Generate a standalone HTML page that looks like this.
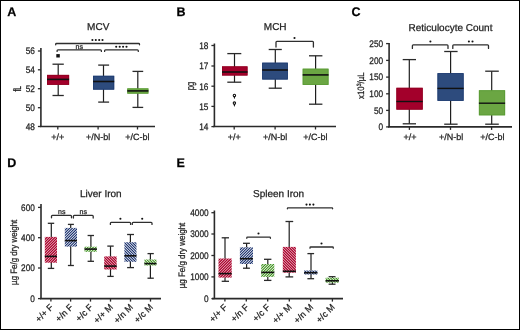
<!DOCTYPE html>
<html><head><meta charset="utf-8"><style>
html,body{margin:0;padding:0;background:#fff;width:520px;height:330px;overflow:hidden;}
svg{display:block;will-change:transform;text-rendering:geometricPrecision;font-family:"Liberation Sans", sans-serif;}
text{stroke:#222;stroke-width:0.25px;paint-order:stroke;}
</style></head><body>
<svg width="520" height="330" viewBox="0 0 520 330" font-family='"Liberation Sans", sans-serif'>
<defs><pattern id="rF" width="8" height="8" patternUnits="userSpaceOnUse"><rect x="0" y="0" width="1" height="1" fill="#be3c5c"/><rect x="1" y="0" width="1" height="1" fill="#ae0c34"/><rect x="2" y="0" width="1" height="1" fill="#de9bac"/><rect x="3" y="0" width="1" height="1" fill="#b2183e"/><rect x="4" y="0" width="1" height="1" fill="#be3c5c"/><rect x="5" y="0" width="1" height="1" fill="#d68398"/><rect x="6" y="0" width="1" height="1" fill="#aa002a"/><rect x="7" y="0" width="1" height="1" fill="#d68398"/><rect x="0" y="1" width="1" height="1" fill="#ae0c34"/><rect x="1" y="1" width="1" height="1" fill="#de9bac"/><rect x="2" y="1" width="1" height="1" fill="#b2183e"/><rect x="3" y="1" width="1" height="1" fill="#be3c5c"/><rect x="4" y="1" width="1" height="1" fill="#d68398"/><rect x="5" y="1" width="1" height="1" fill="#aa002a"/><rect x="6" y="1" width="1" height="1" fill="#d68398"/><rect x="7" y="1" width="1" height="1" fill="#be3c5c"/><rect x="0" y="2" width="1" height="1" fill="#de9bac"/><rect x="1" y="2" width="1" height="1" fill="#b2183e"/><rect x="2" y="2" width="1" height="1" fill="#be3c5c"/><rect x="3" y="2" width="1" height="1" fill="#d68398"/><rect x="4" y="2" width="1" height="1" fill="#aa002a"/><rect x="5" y="2" width="1" height="1" fill="#d68398"/><rect x="6" y="2" width="1" height="1" fill="#be3c5c"/><rect x="7" y="2" width="1" height="1" fill="#ae0c34"/><rect x="0" y="3" width="1" height="1" fill="#b2183e"/><rect x="1" y="3" width="1" height="1" fill="#be3c5c"/><rect x="2" y="3" width="1" height="1" fill="#d68398"/><rect x="3" y="3" width="1" height="1" fill="#aa002a"/><rect x="4" y="3" width="1" height="1" fill="#d68398"/><rect x="5" y="3" width="1" height="1" fill="#be3c5c"/><rect x="6" y="3" width="1" height="1" fill="#ae0c34"/><rect x="7" y="3" width="1" height="1" fill="#de9bac"/><rect x="0" y="4" width="1" height="1" fill="#be3c5c"/><rect x="1" y="4" width="1" height="1" fill="#d68398"/><rect x="2" y="4" width="1" height="1" fill="#aa002a"/><rect x="3" y="4" width="1" height="1" fill="#d68398"/><rect x="4" y="4" width="1" height="1" fill="#be3c5c"/><rect x="5" y="4" width="1" height="1" fill="#ae0c34"/><rect x="6" y="4" width="1" height="1" fill="#de9bac"/><rect x="7" y="4" width="1" height="1" fill="#b2183e"/><rect x="0" y="5" width="1" height="1" fill="#d68398"/><rect x="1" y="5" width="1" height="1" fill="#aa002a"/><rect x="2" y="5" width="1" height="1" fill="#d68398"/><rect x="3" y="5" width="1" height="1" fill="#be3c5c"/><rect x="4" y="5" width="1" height="1" fill="#ae0c34"/><rect x="5" y="5" width="1" height="1" fill="#de9bac"/><rect x="6" y="5" width="1" height="1" fill="#b2183e"/><rect x="7" y="5" width="1" height="1" fill="#be3c5c"/><rect x="0" y="6" width="1" height="1" fill="#aa002a"/><rect x="1" y="6" width="1" height="1" fill="#d68398"/><rect x="2" y="6" width="1" height="1" fill="#be3c5c"/><rect x="3" y="6" width="1" height="1" fill="#ae0c34"/><rect x="4" y="6" width="1" height="1" fill="#de9bac"/><rect x="5" y="6" width="1" height="1" fill="#b2183e"/><rect x="6" y="6" width="1" height="1" fill="#be3c5c"/><rect x="7" y="6" width="1" height="1" fill="#d68398"/><rect x="0" y="7" width="1" height="1" fill="#d68398"/><rect x="1" y="7" width="1" height="1" fill="#be3c5c"/><rect x="2" y="7" width="1" height="1" fill="#ae0c34"/><rect x="3" y="7" width="1" height="1" fill="#de9bac"/><rect x="4" y="7" width="1" height="1" fill="#b2183e"/><rect x="5" y="7" width="1" height="1" fill="#be3c5c"/><rect x="6" y="7" width="1" height="1" fill="#d68398"/><rect x="7" y="7" width="1" height="1" fill="#aa002a"/></pattern><pattern id="rM" width="8" height="8" patternUnits="userSpaceOnUse"><rect x="0" y="0" width="1" height="1" fill="#d68398"/><rect x="1" y="0" width="1" height="1" fill="#be3c5c"/><rect x="2" y="0" width="1" height="1" fill="#ae0c34"/><rect x="3" y="0" width="1" height="1" fill="#de9bac"/><rect x="4" y="0" width="1" height="1" fill="#b2183e"/><rect x="5" y="0" width="1" height="1" fill="#be3c5c"/><rect x="6" y="0" width="1" height="1" fill="#d68398"/><rect x="7" y="0" width="1" height="1" fill="#aa002a"/><rect x="0" y="1" width="1" height="1" fill="#aa002a"/><rect x="1" y="1" width="1" height="1" fill="#d68398"/><rect x="2" y="1" width="1" height="1" fill="#be3c5c"/><rect x="3" y="1" width="1" height="1" fill="#ae0c34"/><rect x="4" y="1" width="1" height="1" fill="#de9bac"/><rect x="5" y="1" width="1" height="1" fill="#b2183e"/><rect x="6" y="1" width="1" height="1" fill="#be3c5c"/><rect x="7" y="1" width="1" height="1" fill="#d68398"/><rect x="0" y="2" width="1" height="1" fill="#d68398"/><rect x="1" y="2" width="1" height="1" fill="#aa002a"/><rect x="2" y="2" width="1" height="1" fill="#d68398"/><rect x="3" y="2" width="1" height="1" fill="#be3c5c"/><rect x="4" y="2" width="1" height="1" fill="#ae0c34"/><rect x="5" y="2" width="1" height="1" fill="#de9bac"/><rect x="6" y="2" width="1" height="1" fill="#b2183e"/><rect x="7" y="2" width="1" height="1" fill="#be3c5c"/><rect x="0" y="3" width="1" height="1" fill="#be3c5c"/><rect x="1" y="3" width="1" height="1" fill="#d68398"/><rect x="2" y="3" width="1" height="1" fill="#aa002a"/><rect x="3" y="3" width="1" height="1" fill="#d68398"/><rect x="4" y="3" width="1" height="1" fill="#be3c5c"/><rect x="5" y="3" width="1" height="1" fill="#ae0c34"/><rect x="6" y="3" width="1" height="1" fill="#de9bac"/><rect x="7" y="3" width="1" height="1" fill="#b2183e"/><rect x="0" y="4" width="1" height="1" fill="#b2183e"/><rect x="1" y="4" width="1" height="1" fill="#be3c5c"/><rect x="2" y="4" width="1" height="1" fill="#d68398"/><rect x="3" y="4" width="1" height="1" fill="#aa002a"/><rect x="4" y="4" width="1" height="1" fill="#d68398"/><rect x="5" y="4" width="1" height="1" fill="#be3c5c"/><rect x="6" y="4" width="1" height="1" fill="#ae0c34"/><rect x="7" y="4" width="1" height="1" fill="#de9bac"/><rect x="0" y="5" width="1" height="1" fill="#de9bac"/><rect x="1" y="5" width="1" height="1" fill="#b2183e"/><rect x="2" y="5" width="1" height="1" fill="#be3c5c"/><rect x="3" y="5" width="1" height="1" fill="#d68398"/><rect x="4" y="5" width="1" height="1" fill="#aa002a"/><rect x="5" y="5" width="1" height="1" fill="#d68398"/><rect x="6" y="5" width="1" height="1" fill="#be3c5c"/><rect x="7" y="5" width="1" height="1" fill="#ae0c34"/><rect x="0" y="6" width="1" height="1" fill="#ae0c34"/><rect x="1" y="6" width="1" height="1" fill="#de9bac"/><rect x="2" y="6" width="1" height="1" fill="#b2183e"/><rect x="3" y="6" width="1" height="1" fill="#be3c5c"/><rect x="4" y="6" width="1" height="1" fill="#d68398"/><rect x="5" y="6" width="1" height="1" fill="#aa002a"/><rect x="6" y="6" width="1" height="1" fill="#d68398"/><rect x="7" y="6" width="1" height="1" fill="#be3c5c"/><rect x="0" y="7" width="1" height="1" fill="#be3c5c"/><rect x="1" y="7" width="1" height="1" fill="#ae0c34"/><rect x="2" y="7" width="1" height="1" fill="#de9bac"/><rect x="3" y="7" width="1" height="1" fill="#b2183e"/><rect x="4" y="7" width="1" height="1" fill="#be3c5c"/><rect x="5" y="7" width="1" height="1" fill="#d68398"/><rect x="6" y="7" width="1" height="1" fill="#aa002a"/><rect x="7" y="7" width="1" height="1" fill="#d68398"/></pattern><pattern id="bF" width="8" height="8" patternUnits="userSpaceOnUse"><rect x="0" y="0" width="1" height="1" fill="#96a1bd"/><rect x="1" y="0" width="1" height="1" fill="#1b326f"/><rect x="2" y="0" width="1" height="1" fill="#c3c9d9"/><rect x="3" y="0" width="1" height="1" fill="#5e6f9a"/><rect x="4" y="0" width="1" height="1" fill="#485a8b"/><rect x="5" y="0" width="1" height="1" fill="#ced3e0"/><rect x="6" y="0" width="1" height="1" fill="#263c76"/><rect x="7" y="0" width="1" height="1" fill="#96a1bd"/><rect x="0" y="1" width="1" height="1" fill="#1b326f"/><rect x="1" y="1" width="1" height="1" fill="#c3c9d9"/><rect x="2" y="1" width="1" height="1" fill="#5e6f9a"/><rect x="3" y="1" width="1" height="1" fill="#485a8b"/><rect x="4" y="1" width="1" height="1" fill="#ced3e0"/><rect x="5" y="1" width="1" height="1" fill="#263c76"/><rect x="6" y="1" width="1" height="1" fill="#96a1bd"/><rect x="7" y="1" width="1" height="1" fill="#96a1bd"/><rect x="0" y="2" width="1" height="1" fill="#c3c9d9"/><rect x="1" y="2" width="1" height="1" fill="#5e6f9a"/><rect x="2" y="2" width="1" height="1" fill="#485a8b"/><rect x="3" y="2" width="1" height="1" fill="#ced3e0"/><rect x="4" y="2" width="1" height="1" fill="#263c76"/><rect x="5" y="2" width="1" height="1" fill="#96a1bd"/><rect x="6" y="2" width="1" height="1" fill="#96a1bd"/><rect x="7" y="2" width="1" height="1" fill="#1b326f"/><rect x="0" y="3" width="1" height="1" fill="#5e6f9a"/><rect x="1" y="3" width="1" height="1" fill="#485a8b"/><rect x="2" y="3" width="1" height="1" fill="#ced3e0"/><rect x="3" y="3" width="1" height="1" fill="#263c76"/><rect x="4" y="3" width="1" height="1" fill="#96a1bd"/><rect x="5" y="3" width="1" height="1" fill="#96a1bd"/><rect x="6" y="3" width="1" height="1" fill="#1b326f"/><rect x="7" y="3" width="1" height="1" fill="#c3c9d9"/><rect x="0" y="4" width="1" height="1" fill="#485a8b"/><rect x="1" y="4" width="1" height="1" fill="#ced3e0"/><rect x="2" y="4" width="1" height="1" fill="#263c76"/><rect x="3" y="4" width="1" height="1" fill="#96a1bd"/><rect x="4" y="4" width="1" height="1" fill="#96a1bd"/><rect x="5" y="4" width="1" height="1" fill="#1b326f"/><rect x="6" y="4" width="1" height="1" fill="#c3c9d9"/><rect x="7" y="4" width="1" height="1" fill="#5e6f9a"/><rect x="0" y="5" width="1" height="1" fill="#ced3e0"/><rect x="1" y="5" width="1" height="1" fill="#263c76"/><rect x="2" y="5" width="1" height="1" fill="#96a1bd"/><rect x="3" y="5" width="1" height="1" fill="#96a1bd"/><rect x="4" y="5" width="1" height="1" fill="#1b326f"/><rect x="5" y="5" width="1" height="1" fill="#c3c9d9"/><rect x="6" y="5" width="1" height="1" fill="#5e6f9a"/><rect x="7" y="5" width="1" height="1" fill="#485a8b"/><rect x="0" y="6" width="1" height="1" fill="#263c76"/><rect x="1" y="6" width="1" height="1" fill="#96a1bd"/><rect x="2" y="6" width="1" height="1" fill="#96a1bd"/><rect x="3" y="6" width="1" height="1" fill="#1b326f"/><rect x="4" y="6" width="1" height="1" fill="#c3c9d9"/><rect x="5" y="6" width="1" height="1" fill="#5e6f9a"/><rect x="6" y="6" width="1" height="1" fill="#485a8b"/><rect x="7" y="6" width="1" height="1" fill="#ced3e0"/><rect x="0" y="7" width="1" height="1" fill="#96a1bd"/><rect x="1" y="7" width="1" height="1" fill="#96a1bd"/><rect x="2" y="7" width="1" height="1" fill="#1b326f"/><rect x="3" y="7" width="1" height="1" fill="#c3c9d9"/><rect x="4" y="7" width="1" height="1" fill="#5e6f9a"/><rect x="5" y="7" width="1" height="1" fill="#485a8b"/><rect x="6" y="7" width="1" height="1" fill="#ced3e0"/><rect x="7" y="7" width="1" height="1" fill="#263c76"/></pattern><pattern id="bM" width="8" height="8" patternUnits="userSpaceOnUse"><rect x="0" y="0" width="1" height="1" fill="#96a1bd"/><rect x="1" y="0" width="1" height="1" fill="#96a1bd"/><rect x="2" y="0" width="1" height="1" fill="#1b326f"/><rect x="3" y="0" width="1" height="1" fill="#c3c9d9"/><rect x="4" y="0" width="1" height="1" fill="#5e6f9a"/><rect x="5" y="0" width="1" height="1" fill="#485a8b"/><rect x="6" y="0" width="1" height="1" fill="#ced3e0"/><rect x="7" y="0" width="1" height="1" fill="#263c76"/><rect x="0" y="1" width="1" height="1" fill="#263c76"/><rect x="1" y="1" width="1" height="1" fill="#96a1bd"/><rect x="2" y="1" width="1" height="1" fill="#96a1bd"/><rect x="3" y="1" width="1" height="1" fill="#1b326f"/><rect x="4" y="1" width="1" height="1" fill="#c3c9d9"/><rect x="5" y="1" width="1" height="1" fill="#5e6f9a"/><rect x="6" y="1" width="1" height="1" fill="#485a8b"/><rect x="7" y="1" width="1" height="1" fill="#ced3e0"/><rect x="0" y="2" width="1" height="1" fill="#ced3e0"/><rect x="1" y="2" width="1" height="1" fill="#263c76"/><rect x="2" y="2" width="1" height="1" fill="#96a1bd"/><rect x="3" y="2" width="1" height="1" fill="#96a1bd"/><rect x="4" y="2" width="1" height="1" fill="#1b326f"/><rect x="5" y="2" width="1" height="1" fill="#c3c9d9"/><rect x="6" y="2" width="1" height="1" fill="#5e6f9a"/><rect x="7" y="2" width="1" height="1" fill="#485a8b"/><rect x="0" y="3" width="1" height="1" fill="#485a8b"/><rect x="1" y="3" width="1" height="1" fill="#ced3e0"/><rect x="2" y="3" width="1" height="1" fill="#263c76"/><rect x="3" y="3" width="1" height="1" fill="#96a1bd"/><rect x="4" y="3" width="1" height="1" fill="#96a1bd"/><rect x="5" y="3" width="1" height="1" fill="#1b326f"/><rect x="6" y="3" width="1" height="1" fill="#c3c9d9"/><rect x="7" y="3" width="1" height="1" fill="#5e6f9a"/><rect x="0" y="4" width="1" height="1" fill="#5e6f9a"/><rect x="1" y="4" width="1" height="1" fill="#485a8b"/><rect x="2" y="4" width="1" height="1" fill="#ced3e0"/><rect x="3" y="4" width="1" height="1" fill="#263c76"/><rect x="4" y="4" width="1" height="1" fill="#96a1bd"/><rect x="5" y="4" width="1" height="1" fill="#96a1bd"/><rect x="6" y="4" width="1" height="1" fill="#1b326f"/><rect x="7" y="4" width="1" height="1" fill="#c3c9d9"/><rect x="0" y="5" width="1" height="1" fill="#c3c9d9"/><rect x="1" y="5" width="1" height="1" fill="#5e6f9a"/><rect x="2" y="5" width="1" height="1" fill="#485a8b"/><rect x="3" y="5" width="1" height="1" fill="#ced3e0"/><rect x="4" y="5" width="1" height="1" fill="#263c76"/><rect x="5" y="5" width="1" height="1" fill="#96a1bd"/><rect x="6" y="5" width="1" height="1" fill="#96a1bd"/><rect x="7" y="5" width="1" height="1" fill="#1b326f"/><rect x="0" y="6" width="1" height="1" fill="#1b326f"/><rect x="1" y="6" width="1" height="1" fill="#c3c9d9"/><rect x="2" y="6" width="1" height="1" fill="#5e6f9a"/><rect x="3" y="6" width="1" height="1" fill="#485a8b"/><rect x="4" y="6" width="1" height="1" fill="#ced3e0"/><rect x="5" y="6" width="1" height="1" fill="#263c76"/><rect x="6" y="6" width="1" height="1" fill="#96a1bd"/><rect x="7" y="6" width="1" height="1" fill="#96a1bd"/><rect x="0" y="7" width="1" height="1" fill="#96a1bd"/><rect x="1" y="7" width="1" height="1" fill="#1b326f"/><rect x="2" y="7" width="1" height="1" fill="#c3c9d9"/><rect x="3" y="7" width="1" height="1" fill="#5e6f9a"/><rect x="4" y="7" width="1" height="1" fill="#485a8b"/><rect x="5" y="7" width="1" height="1" fill="#ced3e0"/><rect x="6" y="7" width="1" height="1" fill="#263c76"/><rect x="7" y="7" width="1" height="1" fill="#96a1bd"/></pattern><pattern id="gF" width="8" height="8" patternUnits="userSpaceOnUse"><rect x="0" y="0" width="1" height="1" fill="#a8ce99"/><rect x="1" y="0" width="1" height="1" fill="#419321"/><rect x="2" y="0" width="1" height="1" fill="#cde3c5"/><rect x="3" y="0" width="1" height="1" fill="#79b362"/><rect x="4" y="0" width="1" height="1" fill="#67a84d"/><rect x="5" y="0" width="1" height="1" fill="#d7e8d0"/><rect x="6" y="0" width="1" height="1" fill="#4b992c"/><rect x="7" y="0" width="1" height="1" fill="#a8ce99"/><rect x="0" y="1" width="1" height="1" fill="#419321"/><rect x="1" y="1" width="1" height="1" fill="#cde3c5"/><rect x="2" y="1" width="1" height="1" fill="#79b362"/><rect x="3" y="1" width="1" height="1" fill="#67a84d"/><rect x="4" y="1" width="1" height="1" fill="#d7e8d0"/><rect x="5" y="1" width="1" height="1" fill="#4b992c"/><rect x="6" y="1" width="1" height="1" fill="#a8ce99"/><rect x="7" y="1" width="1" height="1" fill="#a8ce99"/><rect x="0" y="2" width="1" height="1" fill="#cde3c5"/><rect x="1" y="2" width="1" height="1" fill="#79b362"/><rect x="2" y="2" width="1" height="1" fill="#67a84d"/><rect x="3" y="2" width="1" height="1" fill="#d7e8d0"/><rect x="4" y="2" width="1" height="1" fill="#4b992c"/><rect x="5" y="2" width="1" height="1" fill="#a8ce99"/><rect x="6" y="2" width="1" height="1" fill="#a8ce99"/><rect x="7" y="2" width="1" height="1" fill="#419321"/><rect x="0" y="3" width="1" height="1" fill="#79b362"/><rect x="1" y="3" width="1" height="1" fill="#67a84d"/><rect x="2" y="3" width="1" height="1" fill="#d7e8d0"/><rect x="3" y="3" width="1" height="1" fill="#4b992c"/><rect x="4" y="3" width="1" height="1" fill="#a8ce99"/><rect x="5" y="3" width="1" height="1" fill="#a8ce99"/><rect x="6" y="3" width="1" height="1" fill="#419321"/><rect x="7" y="3" width="1" height="1" fill="#cde3c5"/><rect x="0" y="4" width="1" height="1" fill="#67a84d"/><rect x="1" y="4" width="1" height="1" fill="#d7e8d0"/><rect x="2" y="4" width="1" height="1" fill="#4b992c"/><rect x="3" y="4" width="1" height="1" fill="#a8ce99"/><rect x="4" y="4" width="1" height="1" fill="#a8ce99"/><rect x="5" y="4" width="1" height="1" fill="#419321"/><rect x="6" y="4" width="1" height="1" fill="#cde3c5"/><rect x="7" y="4" width="1" height="1" fill="#79b362"/><rect x="0" y="5" width="1" height="1" fill="#d7e8d0"/><rect x="1" y="5" width="1" height="1" fill="#4b992c"/><rect x="2" y="5" width="1" height="1" fill="#a8ce99"/><rect x="3" y="5" width="1" height="1" fill="#a8ce99"/><rect x="4" y="5" width="1" height="1" fill="#419321"/><rect x="5" y="5" width="1" height="1" fill="#cde3c5"/><rect x="6" y="5" width="1" height="1" fill="#79b362"/><rect x="7" y="5" width="1" height="1" fill="#67a84d"/><rect x="0" y="6" width="1" height="1" fill="#4b992c"/><rect x="1" y="6" width="1" height="1" fill="#a8ce99"/><rect x="2" y="6" width="1" height="1" fill="#a8ce99"/><rect x="3" y="6" width="1" height="1" fill="#419321"/><rect x="4" y="6" width="1" height="1" fill="#cde3c5"/><rect x="5" y="6" width="1" height="1" fill="#79b362"/><rect x="6" y="6" width="1" height="1" fill="#67a84d"/><rect x="7" y="6" width="1" height="1" fill="#d7e8d0"/><rect x="0" y="7" width="1" height="1" fill="#a8ce99"/><rect x="1" y="7" width="1" height="1" fill="#a8ce99"/><rect x="2" y="7" width="1" height="1" fill="#419321"/><rect x="3" y="7" width="1" height="1" fill="#cde3c5"/><rect x="4" y="7" width="1" height="1" fill="#79b362"/><rect x="5" y="7" width="1" height="1" fill="#67a84d"/><rect x="6" y="7" width="1" height="1" fill="#d7e8d0"/><rect x="7" y="7" width="1" height="1" fill="#4b992c"/></pattern><pattern id="gM" width="8" height="8" patternUnits="userSpaceOnUse"><rect x="0" y="0" width="1" height="1" fill="#a8ce99"/><rect x="1" y="0" width="1" height="1" fill="#a8ce99"/><rect x="2" y="0" width="1" height="1" fill="#419321"/><rect x="3" y="0" width="1" height="1" fill="#cde3c5"/><rect x="4" y="0" width="1" height="1" fill="#79b362"/><rect x="5" y="0" width="1" height="1" fill="#67a84d"/><rect x="6" y="0" width="1" height="1" fill="#d7e8d0"/><rect x="7" y="0" width="1" height="1" fill="#4b992c"/><rect x="0" y="1" width="1" height="1" fill="#4b992c"/><rect x="1" y="1" width="1" height="1" fill="#a8ce99"/><rect x="2" y="1" width="1" height="1" fill="#a8ce99"/><rect x="3" y="1" width="1" height="1" fill="#419321"/><rect x="4" y="1" width="1" height="1" fill="#cde3c5"/><rect x="5" y="1" width="1" height="1" fill="#79b362"/><rect x="6" y="1" width="1" height="1" fill="#67a84d"/><rect x="7" y="1" width="1" height="1" fill="#d7e8d0"/><rect x="0" y="2" width="1" height="1" fill="#d7e8d0"/><rect x="1" y="2" width="1" height="1" fill="#4b992c"/><rect x="2" y="2" width="1" height="1" fill="#a8ce99"/><rect x="3" y="2" width="1" height="1" fill="#a8ce99"/><rect x="4" y="2" width="1" height="1" fill="#419321"/><rect x="5" y="2" width="1" height="1" fill="#cde3c5"/><rect x="6" y="2" width="1" height="1" fill="#79b362"/><rect x="7" y="2" width="1" height="1" fill="#67a84d"/><rect x="0" y="3" width="1" height="1" fill="#67a84d"/><rect x="1" y="3" width="1" height="1" fill="#d7e8d0"/><rect x="2" y="3" width="1" height="1" fill="#4b992c"/><rect x="3" y="3" width="1" height="1" fill="#a8ce99"/><rect x="4" y="3" width="1" height="1" fill="#a8ce99"/><rect x="5" y="3" width="1" height="1" fill="#419321"/><rect x="6" y="3" width="1" height="1" fill="#cde3c5"/><rect x="7" y="3" width="1" height="1" fill="#79b362"/><rect x="0" y="4" width="1" height="1" fill="#79b362"/><rect x="1" y="4" width="1" height="1" fill="#67a84d"/><rect x="2" y="4" width="1" height="1" fill="#d7e8d0"/><rect x="3" y="4" width="1" height="1" fill="#4b992c"/><rect x="4" y="4" width="1" height="1" fill="#a8ce99"/><rect x="5" y="4" width="1" height="1" fill="#a8ce99"/><rect x="6" y="4" width="1" height="1" fill="#419321"/><rect x="7" y="4" width="1" height="1" fill="#cde3c5"/><rect x="0" y="5" width="1" height="1" fill="#cde3c5"/><rect x="1" y="5" width="1" height="1" fill="#79b362"/><rect x="2" y="5" width="1" height="1" fill="#67a84d"/><rect x="3" y="5" width="1" height="1" fill="#d7e8d0"/><rect x="4" y="5" width="1" height="1" fill="#4b992c"/><rect x="5" y="5" width="1" height="1" fill="#a8ce99"/><rect x="6" y="5" width="1" height="1" fill="#a8ce99"/><rect x="7" y="5" width="1" height="1" fill="#419321"/><rect x="0" y="6" width="1" height="1" fill="#419321"/><rect x="1" y="6" width="1" height="1" fill="#cde3c5"/><rect x="2" y="6" width="1" height="1" fill="#79b362"/><rect x="3" y="6" width="1" height="1" fill="#67a84d"/><rect x="4" y="6" width="1" height="1" fill="#d7e8d0"/><rect x="5" y="6" width="1" height="1" fill="#4b992c"/><rect x="6" y="6" width="1" height="1" fill="#a8ce99"/><rect x="7" y="6" width="1" height="1" fill="#a8ce99"/><rect x="0" y="7" width="1" height="1" fill="#a8ce99"/><rect x="1" y="7" width="1" height="1" fill="#419321"/><rect x="2" y="7" width="1" height="1" fill="#cde3c5"/><rect x="3" y="7" width="1" height="1" fill="#79b362"/><rect x="4" y="7" width="1" height="1" fill="#67a84d"/><rect x="5" y="7" width="1" height="1" fill="#d7e8d0"/><rect x="6" y="7" width="1" height="1" fill="#4b992c"/><rect x="7" y="7" width="1" height="1" fill="#a8ce99"/></pattern></defs>
<rect x="0" y="0" width="520" height="330" fill="#fff"/>
<rect x="0.5" y="0.5" width="519" height="329" fill="none" stroke="#000" stroke-width="1"/>
<text x="7.2" y="15.9" font-size="12.5" text-anchor="start" font-weight="bold" fill="#000" >A</text>
<text x="176.6" y="16" font-size="12.5" text-anchor="start" font-weight="bold" fill="#000" >B</text>
<text x="351.5" y="16" font-size="12.5" text-anchor="start" font-weight="bold" fill="#000" >C</text>
<text x="7.2" y="167.3" font-size="12.5" text-anchor="start" font-weight="bold" fill="#000" >D</text>
<text x="176.6" y="167.3" font-size="12.5" text-anchor="start" font-weight="bold" fill="#000" >E</text>
<text x="0" y="0" font-size="10" text-anchor="middle" fill="#222" transform="translate(98.2,30)">MCV</text>
<line x1="40.9" y1="48" x2="40.9" y2="126.5" stroke="#2a2a2a" stroke-width="1.6"/>
<line x1="37.9" y1="51" x2="40.9" y2="51" stroke="#2a2a2a" stroke-width="1.3"/>
<text x="0" y="0" font-size="9.5" text-anchor="end" fill="#222" transform="translate(34.85,54.33) scale(0.87,1)">56</text>
<line x1="37.9" y1="69.8" x2="40.9" y2="69.8" stroke="#2a2a2a" stroke-width="1.3"/>
<text x="0" y="0" font-size="9.5" text-anchor="end" fill="#222" transform="translate(34.85,73.12) scale(0.87,1)">54</text>
<line x1="37.9" y1="88.7" x2="40.9" y2="88.7" stroke="#2a2a2a" stroke-width="1.3"/>
<text x="0" y="0" font-size="9.5" text-anchor="end" fill="#222" transform="translate(34.85,92.03) scale(0.87,1)">52</text>
<line x1="37.9" y1="107.7" x2="40.9" y2="107.7" stroke="#2a2a2a" stroke-width="1.3"/>
<text x="0" y="0" font-size="9.5" text-anchor="end" fill="#222" transform="translate(34.85,111.03) scale(0.87,1)">50</text>
<line x1="37.9" y1="126.5" x2="40.9" y2="126.5" stroke="#2a2a2a" stroke-width="1.3"/>
<text x="0" y="0" font-size="9.5" text-anchor="end" fill="#222" transform="translate(34.85,129.82) scale(0.87,1)">48</text>
<line x1="40" y1="126.5" x2="155" y2="126.5" stroke="#2a2a2a" stroke-width="1.6"/>
<line x1="57.8" y1="126.5" x2="57.8" y2="129.5" stroke="#2a2a2a" stroke-width="1.3"/>
<line x1="98.1" y1="126.5" x2="98.1" y2="129.5" stroke="#2a2a2a" stroke-width="1.3"/>
<line x1="137.5" y1="126.5" x2="137.5" y2="129.5" stroke="#2a2a2a" stroke-width="1.3"/>
<text x="57.8" y="139.8" font-size="9" text-anchor="middle" font-weight="normal" fill="#222" >+/+</text>
<text x="98.1" y="139.8" font-size="9" text-anchor="middle" font-weight="normal" fill="#222" >+/N-bl</text>
<text x="137.5" y="139.8" font-size="9" text-anchor="middle" font-weight="normal" fill="#222" >+/C-bl</text>
<text x="0" y="0" font-size="11" text-anchor="middle" textLength="5.6" lengthAdjust="spacingAndGlyphs" fill="#222" transform="translate(20.6,88.8) rotate(-90)">fL</text>
<line x1="58.2" y1="64.2" x2="58.2" y2="95.5" stroke="#1e1e1e" stroke-width="1.2"/>
<line x1="52.5" y1="64.2" x2="63.8" y2="64.2" stroke="#2a2a2a" stroke-width="1.3"/>
<line x1="52.5" y1="95.5" x2="63.8" y2="95.5" stroke="#2a2a2a" stroke-width="1.3"/>
<rect x="47" y="74.9" width="22.099999999999994" height="9.899999999999991" fill="#a3002b"/>
<rect x="47.40" y="75.30" width="21.30" height="9.10" fill="none" stroke="#900020" stroke-width="0.8"/>
<line x1="47" y1="79.4" x2="69.1" y2="79.4" stroke="#111" stroke-width="1.6"/>
<rect x="56.3" y="54.1" width="3.5" height="3.4" fill="#111"/>
<line x1="103.5" y1="65.1" x2="103.5" y2="102.1" stroke="#1e1e1e" stroke-width="1.2"/>
<line x1="98.2" y1="65.1" x2="109.1" y2="65.1" stroke="#2a2a2a" stroke-width="1.3"/>
<line x1="98.2" y1="102.1" x2="109.1" y2="102.1" stroke="#2a2a2a" stroke-width="1.3"/>
<rect x="93.1" y="75.8" width="21.10000000000001" height="13.799999999999997" fill="#2d4b7d"/>
<rect x="93.50" y="76.20" width="20.30" height="13.00" fill="none" stroke="#1c3a70" stroke-width="0.8"/>
<line x1="93.1" y1="81.5" x2="114.2" y2="81.5" stroke="#111" stroke-width="1.6"/>
<line x1="137.8" y1="71.4" x2="137.8" y2="107.4" stroke="#1e1e1e" stroke-width="1.2"/>
<line x1="132.5" y1="71.4" x2="143.2" y2="71.4" stroke="#2a2a2a" stroke-width="1.3"/>
<line x1="132.5" y1="107.4" x2="143.2" y2="107.4" stroke="#2a2a2a" stroke-width="1.3"/>
<rect x="127.3" y="88.4" width="21.10000000000001" height="5.199999999999989" fill="#6ba643"/>
<rect x="127.70" y="88.80" width="20.30" height="4.40" fill="none" stroke="#589a32" stroke-width="0.8"/>
<line x1="127.3" y1="90.9" x2="148.4" y2="90.9" stroke="#111" stroke-width="1.6"/>
<path d="M55.7 44.8 L55.7 44.28 Q55.7 43.5 56.48 43.5 L138.72 43.5 Q139.5 43.5 139.5 44.28 L139.5 44.8" fill="none" stroke="#2e2e2e" stroke-width="1.3" stroke-linecap="round"/>
<path d="M57.1 51.4 L57.1 50.70 Q57.1 49.8 58.00 49.8 L100.50 49.8 Q101.4 49.8 101.4 50.70 L101.4 51.4" fill="none" stroke="#2e2e2e" stroke-width="1.3" stroke-linecap="round"/>
<path d="M104.6 51.4 L104.6 50.70 Q104.6 49.8 105.50 49.8 L137.40 49.8 Q138.3 49.8 138.3 50.70 L138.3 51.4" fill="none" stroke="#2e2e2e" stroke-width="1.3" stroke-linecap="round"/>
<circle cx="92.4" cy="40" r="1.05" fill="#111"/>
<circle cx="95.8" cy="40" r="1.05" fill="#111"/>
<circle cx="99.2" cy="40" r="1.05" fill="#111"/>
<circle cx="102.5" cy="40" r="1.05" fill="#111"/>
<text x="79.3" y="48.8" font-size="7" text-anchor="middle" font-weight="normal" fill="#222" >ns</text>
<circle cx="116.2" cy="46.8" r="1.05" fill="#111"/>
<circle cx="119.7" cy="46.8" r="1.05" fill="#111"/>
<circle cx="123.1" cy="46.8" r="1.05" fill="#111"/>
<circle cx="126.5" cy="46.8" r="1.05" fill="#111"/>
<text x="0" y="0" font-size="10" text-anchor="middle" fill="#222" transform="translate(275.2,30)">MCH</text>
<line x1="214.4" y1="43.5" x2="214.4" y2="126.6" stroke="#2a2a2a" stroke-width="1.6"/>
<line x1="211.4" y1="45.5" x2="214.4" y2="45.5" stroke="#2a2a2a" stroke-width="1.3"/>
<text x="0" y="0" font-size="9.5" text-anchor="end" fill="#222" transform="translate(208.45,48.83) scale(0.87,1)">18</text>
<line x1="211.4" y1="66" x2="214.4" y2="66" stroke="#2a2a2a" stroke-width="1.3"/>
<text x="0" y="0" font-size="9.5" text-anchor="end" fill="#222" transform="translate(208.45,69.33) scale(0.87,1)">17</text>
<line x1="211.4" y1="86.2" x2="214.4" y2="86.2" stroke="#2a2a2a" stroke-width="1.3"/>
<text x="0" y="0" font-size="9.5" text-anchor="end" fill="#222" transform="translate(208.45,89.53) scale(0.87,1)">16</text>
<line x1="211.4" y1="106.4" x2="214.4" y2="106.4" stroke="#2a2a2a" stroke-width="1.3"/>
<text x="0" y="0" font-size="9.5" text-anchor="end" fill="#222" transform="translate(208.45,109.73) scale(0.87,1)">15</text>
<line x1="211.4" y1="126.6" x2="214.4" y2="126.6" stroke="#2a2a2a" stroke-width="1.3"/>
<text x="0" y="0" font-size="9.5" text-anchor="end" fill="#222" transform="translate(208.45,129.92) scale(0.87,1)">14</text>
<line x1="213" y1="126.5" x2="336" y2="126.5" stroke="#2a2a2a" stroke-width="1.6"/>
<line x1="234.2" y1="126.5" x2="234.2" y2="129.5" stroke="#2a2a2a" stroke-width="1.3"/>
<line x1="275.1" y1="126.5" x2="275.1" y2="129.5" stroke="#2a2a2a" stroke-width="1.3"/>
<line x1="315.5" y1="126.5" x2="315.5" y2="129.5" stroke="#2a2a2a" stroke-width="1.3"/>
<text x="234.2" y="139.8" font-size="9" text-anchor="middle" font-weight="normal" fill="#222" >+/+</text>
<text x="275.1" y="139.8" font-size="9" text-anchor="middle" font-weight="normal" fill="#222" >+/N-bl</text>
<text x="315.5" y="139.8" font-size="9" text-anchor="middle" font-weight="normal" fill="#222" >+/C-bl</text>
<text x="0" y="0" font-size="11" text-anchor="middle" textLength="8.5" lengthAdjust="spacingAndGlyphs" fill="#222" transform="translate(193.7,86) rotate(-90)">pg</text>
<line x1="234.5" y1="53.6" x2="234.5" y2="82.2" stroke="#1e1e1e" stroke-width="1.2"/>
<line x1="227.3" y1="53.6" x2="241.3" y2="53.6" stroke="#2a2a2a" stroke-width="1.3"/>
<line x1="227.3" y1="82.2" x2="241.3" y2="82.2" stroke="#2a2a2a" stroke-width="1.3"/>
<rect x="222" y="66.4" width="25.5" height="9.099999999999994" fill="#a3002b"/>
<rect x="222.40" y="66.80" width="24.70" height="8.30" fill="none" stroke="#900020" stroke-width="0.8"/>
<line x1="222" y1="72" x2="247.5" y2="72" stroke="#111" stroke-width="1.6"/>
<line x1="275.3" y1="49.5" x2="275.3" y2="88.2" stroke="#1e1e1e" stroke-width="1.2"/>
<line x1="268.7" y1="49.5" x2="281.8" y2="49.5" stroke="#2a2a2a" stroke-width="1.3"/>
<line x1="268.7" y1="88.2" x2="281.8" y2="88.2" stroke="#2a2a2a" stroke-width="1.3"/>
<rect x="262.2" y="62.7" width="25.600000000000023" height="16.799999999999997" fill="#2d4b7d"/>
<rect x="262.60" y="63.10" width="24.80" height="16.00" fill="none" stroke="#1c3a70" stroke-width="0.8"/>
<line x1="262.2" y1="70" x2="287.8" y2="70" stroke="#111" stroke-width="1.6"/>
<line x1="315.6" y1="55.8" x2="315.6" y2="104.2" stroke="#1e1e1e" stroke-width="1.2"/>
<line x1="309" y1="55.8" x2="322.4" y2="55.8" stroke="#2a2a2a" stroke-width="1.3"/>
<line x1="309" y1="104.2" x2="322.4" y2="104.2" stroke="#2a2a2a" stroke-width="1.3"/>
<rect x="302.7" y="68.7" width="25.80000000000001" height="16.200000000000003" fill="#6ba643"/>
<rect x="303.10" y="69.10" width="25.00" height="15.40" fill="none" stroke="#589a32" stroke-width="0.8"/>
<line x1="302.7" y1="74.9" x2="328.5" y2="74.9" stroke="#111" stroke-width="1.6"/>
<circle cx="234.4" cy="95.4" r="1.2" fill="none" stroke="#111" stroke-width="1.1"/>
<path d="M233.5 96.30000000000001 L235.3 96.30000000000001 L234.7 98.80000000000001 L234.1 98.80000000000001 Z" fill="#111"/>
<circle cx="234.4" cy="103.1" r="1.2" fill="none" stroke="#111" stroke-width="1.1"/>
<path d="M233.5 104.0 L235.3 104.0 L234.7 106.5 L234.1 106.5 Z" fill="#111"/>
<path d="M276 47.1 L276 42.30 Q276 41.4 276.90 41.4 L312.50 41.4 Q313.4 41.4 313.4 42.30 L313.4 47.1" fill="none" stroke="#2e2e2e" stroke-width="1.3" stroke-linecap="round"/>
<circle cx="294.5" cy="38" r="1.05" fill="#111"/>
<text x="0" y="0" font-size="10" text-anchor="middle" fill="#222" transform="translate(450.5,30.7)">Reticulocyte Count</text>
<line x1="389.1" y1="43" x2="389.1" y2="126.9" stroke="#2a2a2a" stroke-width="1.6"/>
<line x1="386.1" y1="43.6" x2="389.1" y2="43.6" stroke="#2a2a2a" stroke-width="1.3"/>
<text x="0" y="0" font-size="9.5" text-anchor="end" fill="#222" transform="translate(383.15000000000003,46.93) scale(0.87,1)">250</text>
<line x1="386.1" y1="60.4" x2="389.1" y2="60.4" stroke="#2a2a2a" stroke-width="1.3"/>
<text x="0" y="0" font-size="9.5" text-anchor="end" fill="#222" transform="translate(383.15000000000003,63.73) scale(0.87,1)">200</text>
<line x1="386.1" y1="77.1" x2="389.1" y2="77.1" stroke="#2a2a2a" stroke-width="1.3"/>
<text x="0" y="0" font-size="9.5" text-anchor="end" fill="#222" transform="translate(383.15000000000003,80.42) scale(0.87,1)">150</text>
<line x1="386.1" y1="93.8" x2="389.1" y2="93.8" stroke="#2a2a2a" stroke-width="1.3"/>
<text x="0" y="0" font-size="9.5" text-anchor="end" fill="#222" transform="translate(383.15000000000003,97.12) scale(0.87,1)">100</text>
<line x1="386.1" y1="110.4" x2="389.1" y2="110.4" stroke="#2a2a2a" stroke-width="1.3"/>
<text x="0" y="0" font-size="9.5" text-anchor="end" fill="#222" transform="translate(383.15000000000003,113.73) scale(0.87,1)">50</text>
<line x1="386.1" y1="126.9" x2="389.1" y2="126.9" stroke="#2a2a2a" stroke-width="1.3"/>
<text x="0" y="0" font-size="9.5" text-anchor="end" fill="#222" transform="translate(383.15000000000003,130.22) scale(0.87,1)">0</text>
<line x1="388" y1="126.9" x2="512" y2="126.9" stroke="#2a2a2a" stroke-width="1.6"/>
<line x1="409.4" y1="126.9" x2="409.4" y2="129.9" stroke="#2a2a2a" stroke-width="1.3"/>
<line x1="450.5" y1="126.9" x2="450.5" y2="129.9" stroke="#2a2a2a" stroke-width="1.3"/>
<line x1="491.6" y1="126.9" x2="491.6" y2="129.9" stroke="#2a2a2a" stroke-width="1.3"/>
<text x="410.09999999999997" y="139.8" font-size="9" text-anchor="middle" font-weight="normal" fill="#222" >+/+</text>
<text x="451.2" y="139.8" font-size="9" text-anchor="middle" font-weight="normal" fill="#222" >+/N-bl</text>
<text x="492.3" y="139.8" font-size="9" text-anchor="middle" font-weight="normal" fill="#222" >+/C-bl</text>
<text x="0" y="0" font-size="9.2" text-anchor="middle" fill="#222" transform="translate(363.9,85.65) rotate(-90) scale(0.85,1)">x10<tspan font-size="6.2" dy="-3.3">3</tspan><tspan dy="3.3">/µL</tspan></text>
<line x1="409.3" y1="59.6" x2="409.3" y2="123.8" stroke="#1e1e1e" stroke-width="1.2"/>
<line x1="402.7" y1="59.6" x2="416" y2="59.6" stroke="#2a2a2a" stroke-width="1.3"/>
<line x1="402.7" y1="123.8" x2="416" y2="123.8" stroke="#2a2a2a" stroke-width="1.3"/>
<rect x="396.4" y="87.8" width="26.30000000000001" height="21.799999999999997" fill="#a3002b"/>
<rect x="396.80" y="88.20" width="25.50" height="21.00" fill="none" stroke="#900020" stroke-width="0.8"/>
<line x1="396.4" y1="101.5" x2="422.7" y2="101.5" stroke="#111" stroke-width="1.4"/>
<line x1="450.6" y1="51.5" x2="450.6" y2="124.2" stroke="#1e1e1e" stroke-width="1.2"/>
<line x1="444.2" y1="51.5" x2="457.6" y2="51.5" stroke="#2a2a2a" stroke-width="1.3"/>
<line x1="444.2" y1="124.2" x2="457.6" y2="124.2" stroke="#2a2a2a" stroke-width="1.3"/>
<rect x="437.5" y="73.2" width="26.100000000000023" height="27.599999999999994" fill="#2d4b7d"/>
<rect x="437.90" y="73.60" width="25.30" height="26.80" fill="none" stroke="#1c3a70" stroke-width="0.8"/>
<line x1="437.5" y1="88.4" x2="463.6" y2="88.4" stroke="#111" stroke-width="1.4"/>
<line x1="491.7" y1="71.2" x2="491.7" y2="124.2" stroke="#1e1e1e" stroke-width="1.2"/>
<line x1="485.2" y1="71.2" x2="498.8" y2="71.2" stroke="#2a2a2a" stroke-width="1.3"/>
<line x1="485.2" y1="124.2" x2="498.8" y2="124.2" stroke="#2a2a2a" stroke-width="1.3"/>
<rect x="478.9" y="90.3" width="26.200000000000045" height="25.0" fill="#6ba643"/>
<rect x="479.30" y="90.70" width="25.40" height="24.20" fill="none" stroke="#589a32" stroke-width="0.8"/>
<line x1="478.9" y1="103.2" x2="505.1" y2="103.2" stroke="#111" stroke-width="1.4"/>
<path d="M412.4 48.4 L412.4 45.80 Q412.4 44.9 413.30 44.9 L447.10 44.9 Q448.0 44.9 448.0 45.80 L448.0 48.4" fill="none" stroke="#2e2e2e" stroke-width="1.3" stroke-linecap="round"/>
<path d="M452.8 48.4 L452.8 45.80 Q452.8 44.9 453.70 44.9 L487.60 44.9 Q488.5 44.9 488.5 45.80 L488.5 48.4" fill="none" stroke="#2e2e2e" stroke-width="1.3" stroke-linecap="round"/>
<circle cx="430.4" cy="41.5" r="1.05" fill="#111"/>
<circle cx="468.9" cy="41.5" r="1.05" fill="#111"/>
<circle cx="472.5" cy="41.5" r="1.05" fill="#111"/>
<text x="0" y="0" font-size="10" text-anchor="middle" fill="#222" transform="translate(100.8,196.8)">Liver Iron</text>
<line x1="41" y1="204" x2="41" y2="298.6" stroke="#2a2a2a" stroke-width="1.6"/>
<line x1="38" y1="207.4" x2="41" y2="207.4" stroke="#2a2a2a" stroke-width="1.3"/>
<text x="0" y="0" font-size="9.5" text-anchor="end" fill="#222" transform="translate(34.85,210.72) scale(0.87,1)">600</text>
<line x1="38" y1="237.7" x2="41" y2="237.7" stroke="#2a2a2a" stroke-width="1.3"/>
<text x="0" y="0" font-size="9.5" text-anchor="end" fill="#222" transform="translate(34.85,241.02) scale(0.87,1)">400</text>
<line x1="38" y1="268" x2="41" y2="268" stroke="#2a2a2a" stroke-width="1.3"/>
<text x="0" y="0" font-size="9.5" text-anchor="end" fill="#222" transform="translate(34.85,271.32) scale(0.87,1)">200</text>
<line x1="38" y1="298.6" x2="41" y2="298.6" stroke="#2a2a2a" stroke-width="1.3"/>
<text x="0" y="0" font-size="9.5" text-anchor="end" fill="#222" transform="translate(34.85,301.93) scale(0.87,1)">0</text>
<line x1="40" y1="298.6" x2="161" y2="298.6" stroke="#2a2a2a" stroke-width="1.6"/>
<line x1="50.9" y1="298.6" x2="50.9" y2="301.6" stroke="#2a2a2a" stroke-width="1.3"/>
<line x1="70.6" y1="298.6" x2="70.6" y2="301.6" stroke="#2a2a2a" stroke-width="1.3"/>
<line x1="90.5" y1="298.6" x2="90.5" y2="301.6" stroke="#2a2a2a" stroke-width="1.3"/>
<line x1="110.5" y1="298.6" x2="110.5" y2="301.6" stroke="#2a2a2a" stroke-width="1.3"/>
<line x1="130.5" y1="298.6" x2="130.5" y2="301.6" stroke="#2a2a2a" stroke-width="1.3"/>
<line x1="150.5" y1="298.6" x2="150.5" y2="301.6" stroke="#2a2a2a" stroke-width="1.3"/>
<text x="0" y="0" font-size="9.4" text-anchor="middle" textLength="65.2" lengthAdjust="spacingAndGlyphs" fill="#222" transform="translate(16.9,252.3) rotate(-90)">µg Fe/g dry weight</text>
<line x1="51.3" y1="223.3" x2="51.3" y2="268.4" stroke="#1e1e1e" stroke-width="1.2"/>
<line x1="47.8" y1="223.3" x2="54.2" y2="223.3" stroke="#2a2a2a" stroke-width="1.3"/>
<line x1="47.8" y1="268.4" x2="54.2" y2="268.4" stroke="#2a2a2a" stroke-width="1.3"/>
<rect x="44.8" y="236.9" width="12.200000000000003" height="25.799999999999983" fill="url(#rF)"/>
<line x1="44.8" y1="256.4" x2="57" y2="256.4" stroke="#111" stroke-width="1.6"/>
<line x1="70.7" y1="224.4" x2="70.7" y2="265.5" stroke="#1e1e1e" stroke-width="1.2"/>
<line x1="67.9" y1="224.4" x2="73.9" y2="224.4" stroke="#2a2a2a" stroke-width="1.3"/>
<line x1="67.9" y1="265.5" x2="73.9" y2="265.5" stroke="#2a2a2a" stroke-width="1.3"/>
<rect x="64.8" y="227.9" width="12.200000000000003" height="18.69999999999999" fill="url(#bF)"/>
<line x1="64.8" y1="240.6" x2="77" y2="240.6" stroke="#111" stroke-width="1.6"/>
<line x1="90.9" y1="235.5" x2="90.9" y2="261.3" stroke="#1e1e1e" stroke-width="1.2"/>
<line x1="87.6" y1="235.5" x2="94" y2="235.5" stroke="#2a2a2a" stroke-width="1.3"/>
<line x1="87.6" y1="261.3" x2="94" y2="261.3" stroke="#2a2a2a" stroke-width="1.3"/>
<rect x="84.5" y="246.7" width="12.400000000000006" height="5.100000000000023" fill="url(#gF)"/>
<line x1="84.5" y1="249.1" x2="96.9" y2="249.1" stroke="#111" stroke-width="1.6"/>
<line x1="110.5" y1="246.1" x2="110.5" y2="276.4" stroke="#1e1e1e" stroke-width="1.2"/>
<line x1="107.3" y1="246.1" x2="113.7" y2="246.1" stroke="#2a2a2a" stroke-width="1.3"/>
<line x1="107.3" y1="276.4" x2="113.7" y2="276.4" stroke="#2a2a2a" stroke-width="1.3"/>
<rect x="104.2" y="256.4" width="12.5" height="13.100000000000023" fill="url(#rM)"/>
<line x1="104.2" y1="266.1" x2="116.7" y2="266.1" stroke="#111" stroke-width="1.6"/>
<line x1="130.4" y1="234.5" x2="130.4" y2="267.6" stroke="#1e1e1e" stroke-width="1.2"/>
<line x1="127.1" y1="234.5" x2="134" y2="234.5" stroke="#2a2a2a" stroke-width="1.3"/>
<line x1="127.1" y1="267.6" x2="134" y2="267.6" stroke="#2a2a2a" stroke-width="1.3"/>
<rect x="124.4" y="242.2" width="12.099999999999994" height="19.600000000000023" fill="url(#bM)"/>
<line x1="124.4" y1="255.8" x2="136.5" y2="255.8" stroke="#111" stroke-width="1.6"/>
<line x1="150.4" y1="253.6" x2="150.4" y2="278.2" stroke="#1e1e1e" stroke-width="1.2"/>
<line x1="147.5" y1="253.6" x2="153.8" y2="253.6" stroke="#2a2a2a" stroke-width="1.3"/>
<line x1="147.5" y1="278.2" x2="153.8" y2="278.2" stroke="#2a2a2a" stroke-width="1.3"/>
<rect x="144.4" y="259.5" width="12.099999999999994" height="6.0" fill="url(#gM)"/>
<line x1="144.4" y1="263.6" x2="156.5" y2="263.6" stroke="#111" stroke-width="1.6"/>
<path d="M51.5 217.8 L51.5 216.30 Q51.5 215.4 52.40 215.4 L70.60 215.4 Q71.5 215.4 71.5 216.30 L71.5 217.8" fill="none" stroke="#2e2e2e" stroke-width="1.3" stroke-linecap="round"/>
<path d="M73.4 218.0 L73.4 216.30 Q73.4 215.4 74.30 215.4 L92.30 215.4 Q93.2 215.4 93.2 216.30 L93.2 218.0" fill="none" stroke="#2e2e2e" stroke-width="1.3" stroke-linecap="round"/>
<text x="61.8" y="214.4" font-size="7" text-anchor="middle" font-weight="normal" fill="#222" >ns</text>
<text x="83.3" y="214.4" font-size="7" text-anchor="middle" font-weight="normal" fill="#222" >ns</text>
<path d="M110.4 224.4 L110.4 223.30 Q110.4 222.4 111.30 222.4 L129.70 222.4 Q130.6 222.4 130.6 223.30 L130.6 224.4" fill="none" stroke="#2e2e2e" stroke-width="1.3" stroke-linecap="round"/>
<path d="M132.3 224.4 L132.3 223.30 Q132.3 222.4 133.20 222.4 L151.10 222.4 Q152 222.4 152 223.30 L152 224.4" fill="none" stroke="#2e2e2e" stroke-width="1.3" stroke-linecap="round"/>
<circle cx="120.4" cy="218.7" r="1.05" fill="#111"/>
<circle cx="142.2" cy="218.7" r="1.05" fill="#111"/>
<text x="0" y="0" font-size="9" text-anchor="end" fill="#222" transform="translate(53.9,307.8) rotate(-45)">+/+ F</text>
<text x="0" y="0" font-size="9" text-anchor="end" fill="#222" transform="translate(73.6,307.8) rotate(-45)">+/n F</text>
<text x="0" y="0" font-size="9" text-anchor="end" fill="#222" transform="translate(93.5,307.8) rotate(-45)">+/c F</text>
<text x="0" y="0" font-size="9" text-anchor="end" fill="#222" transform="translate(113.5,307.8) rotate(-45)">+/+ M</text>
<text x="0" y="0" font-size="9" text-anchor="end" fill="#222" transform="translate(133.5,307.8) rotate(-45)">+/n M</text>
<text x="0" y="0" font-size="9" text-anchor="end" fill="#222" transform="translate(153.5,307.8) rotate(-45)">+/c M</text>
<text x="0" y="0" font-size="10" text-anchor="middle" fill="#222" transform="translate(278.6,196.5)">Spleen Iron</text>
<line x1="214.4" y1="210.5" x2="214.4" y2="298.6" stroke="#2a2a2a" stroke-width="1.6"/>
<line x1="211.4" y1="212.7" x2="214.4" y2="212.7" stroke="#2a2a2a" stroke-width="1.3"/>
<text x="0" y="0" font-size="9.5" text-anchor="end" fill="#222" transform="translate(208.65,216.02) scale(0.87,1)">4000</text>
<line x1="211.4" y1="234" x2="214.4" y2="234" stroke="#2a2a2a" stroke-width="1.3"/>
<text x="0" y="0" font-size="9.5" text-anchor="end" fill="#222" transform="translate(208.65,237.32) scale(0.87,1)">3000</text>
<line x1="211.4" y1="255.5" x2="214.4" y2="255.5" stroke="#2a2a2a" stroke-width="1.3"/>
<text x="0" y="0" font-size="9.5" text-anchor="end" fill="#222" transform="translate(208.65,258.82) scale(0.87,1)">2000</text>
<line x1="211.4" y1="276.9" x2="214.4" y2="276.9" stroke="#2a2a2a" stroke-width="1.3"/>
<text x="0" y="0" font-size="9.5" text-anchor="end" fill="#222" transform="translate(208.65,280.22) scale(0.87,1)">1000</text>
<line x1="211.4" y1="298.6" x2="214.4" y2="298.6" stroke="#2a2a2a" stroke-width="1.3"/>
<text x="0" y="0" font-size="9.5" text-anchor="end" fill="#222" transform="translate(208.65,301.93) scale(0.87,1)">0</text>
<line x1="212" y1="298.6" x2="343" y2="298.6" stroke="#2a2a2a" stroke-width="1.6"/>
<line x1="224.9" y1="298.6" x2="224.9" y2="301.6" stroke="#2a2a2a" stroke-width="1.3"/>
<line x1="246.3" y1="298.6" x2="246.3" y2="301.6" stroke="#2a2a2a" stroke-width="1.3"/>
<line x1="267.7" y1="298.6" x2="267.7" y2="301.6" stroke="#2a2a2a" stroke-width="1.3"/>
<line x1="289.3" y1="298.6" x2="289.3" y2="301.6" stroke="#2a2a2a" stroke-width="1.3"/>
<line x1="310.7" y1="298.6" x2="310.7" y2="301.6" stroke="#2a2a2a" stroke-width="1.3"/>
<line x1="332.4" y1="298.6" x2="332.4" y2="301.6" stroke="#2a2a2a" stroke-width="1.3"/>
<text x="0" y="0" font-size="9.4" text-anchor="middle" textLength="65.5" lengthAdjust="spacingAndGlyphs" fill="#222" transform="translate(185.4,255.5) rotate(-90)">µg Fe/g dry weight</text>
<line x1="225.0" y1="237.8" x2="225.0" y2="281.3" stroke="#1e1e1e" stroke-width="1.2"/>
<line x1="221.7" y1="237.8" x2="229" y2="237.8" stroke="#2a2a2a" stroke-width="1.3"/>
<line x1="221.7" y1="281.3" x2="229" y2="281.3" stroke="#2a2a2a" stroke-width="1.3"/>
<rect x="218.5" y="258.5" width="13.199999999999989" height="19.100000000000023" fill="url(#rF)"/>
<line x1="218.5" y1="273.6" x2="231.7" y2="273.6" stroke="#111" stroke-width="1.6"/>
<line x1="246.6" y1="243.3" x2="246.6" y2="268.2" stroke="#1e1e1e" stroke-width="1.2"/>
<line x1="243" y1="243.3" x2="249.9" y2="243.3" stroke="#2a2a2a" stroke-width="1.3"/>
<line x1="243" y1="268.2" x2="249.9" y2="268.2" stroke="#2a2a2a" stroke-width="1.3"/>
<rect x="239.9" y="247.3" width="13.099999999999994" height="16.69999999999999" fill="url(#bF)"/>
<line x1="239.9" y1="258.7" x2="253" y2="258.7" stroke="#111" stroke-width="1.6"/>
<line x1="267.8" y1="259.3" x2="267.8" y2="280.4" stroke="#1e1e1e" stroke-width="1.2"/>
<line x1="264" y1="259.3" x2="271.4" y2="259.3" stroke="#2a2a2a" stroke-width="1.3"/>
<line x1="264" y1="280.4" x2="271.4" y2="280.4" stroke="#2a2a2a" stroke-width="1.3"/>
<rect x="261.2" y="264" width="13.100000000000023" height="12.899999999999977" fill="url(#gF)"/>
<line x1="261.2" y1="272.4" x2="274.3" y2="272.4" stroke="#111" stroke-width="1.6"/>
<line x1="289.2" y1="221.5" x2="289.2" y2="276.9" stroke="#1e1e1e" stroke-width="1.2"/>
<line x1="285.5" y1="221.5" x2="293.2" y2="221.5" stroke="#2a2a2a" stroke-width="1.3"/>
<line x1="285.5" y1="276.9" x2="293.2" y2="276.9" stroke="#2a2a2a" stroke-width="1.3"/>
<rect x="282.8" y="246.9" width="13.099999999999966" height="25.799999999999983" fill="url(#rM)"/>
<line x1="282.8" y1="271.3" x2="295.9" y2="271.3" stroke="#111" stroke-width="1.6"/>
<line x1="311" y1="253.6" x2="311" y2="278.7" stroke="#1e1e1e" stroke-width="1.2"/>
<line x1="307.4" y1="253.6" x2="314.1" y2="253.6" stroke="#2a2a2a" stroke-width="1.3"/>
<line x1="307.4" y1="278.7" x2="314.1" y2="278.7" stroke="#2a2a2a" stroke-width="1.3"/>
<rect x="304.1" y="270.5" width="13.299999999999955" height="4.0" fill="url(#bM)"/>
<line x1="304.1" y1="272.7" x2="317.4" y2="272.7" stroke="#111" stroke-width="1.6"/>
<line x1="332.4" y1="276.7" x2="332.4" y2="284.2" stroke="#1e1e1e" stroke-width="1.2"/>
<line x1="328.6" y1="276.7" x2="335.5" y2="276.7" stroke="#2a2a2a" stroke-width="1.3"/>
<line x1="328.6" y1="284.2" x2="335.5" y2="284.2" stroke="#2a2a2a" stroke-width="1.3"/>
<rect x="325.6" y="277.7" width="13.299999999999955" height="5.0" fill="url(#gM)"/>
<line x1="325.6" y1="280.8" x2="338.9" y2="280.8" stroke="#111" stroke-width="1.6"/>
<path d="M246.8 238.29999999999998 L246.8 237.86 Q246.8 237.2 247.46 237.2 L269.74 237.2 Q270.4 237.2 270.4 237.86 L270.4 238.29999999999998" fill="none" stroke="#2e2e2e" stroke-width="1.3" stroke-linecap="round"/>
<circle cx="258.5" cy="233.5" r="1.05" fill="#111"/>
<path d="M287.4 208.8 L287.4 208.44 Q287.4 207.9 287.94 207.9 L332.06 207.9 Q332.6 207.9 332.6 208.44 L332.6 208.8" fill="none" stroke="#2e2e2e" stroke-width="1.3" stroke-linecap="round"/>
<circle cx="306.5" cy="204.6" r="1.05" fill="#111"/>
<circle cx="309.9" cy="204.6" r="1.05" fill="#111"/>
<circle cx="313.4" cy="204.6" r="1.05" fill="#111"/>
<path d="M310 248.2 L310 247.72 Q310 247 310.72 247 L332.58 247 Q333.3 247 333.3 247.72 L333.3 248.2" fill="none" stroke="#2e2e2e" stroke-width="1.3" stroke-linecap="round"/>
<circle cx="321.5" cy="243.5" r="1.05" fill="#111"/>
<text x="0" y="0" font-size="9" text-anchor="end" fill="#222" transform="translate(227.9,307.8) rotate(-45)">+/+ F</text>
<text x="0" y="0" font-size="9" text-anchor="end" fill="#222" transform="translate(249.3,307.8) rotate(-45)">+/n F</text>
<text x="0" y="0" font-size="9" text-anchor="end" fill="#222" transform="translate(270.7,307.8) rotate(-45)">+/c F</text>
<text x="0" y="0" font-size="9" text-anchor="end" fill="#222" transform="translate(292.3,307.8) rotate(-45)">+/+ M</text>
<text x="0" y="0" font-size="9" text-anchor="end" fill="#222" transform="translate(313.7,307.8) rotate(-45)">+/n M</text>
<text x="0" y="0" font-size="9" text-anchor="end" fill="#222" transform="translate(335.4,307.8) rotate(-45)">+/c M</text>
</svg>
</body></html>
